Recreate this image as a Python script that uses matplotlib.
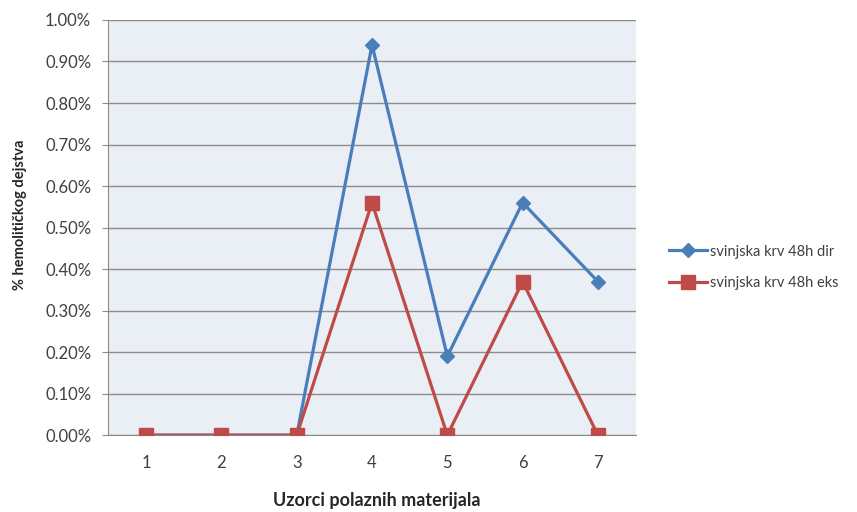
import matplotlib
matplotlib.use("Agg")
import matplotlib.pyplot as plt
from matplotlib.ticker import PercentFormatter

plt.rcParams['font.family'] = ['Lato', 'DejaVu Sans']

uzorci = [1, 2, 3, 4, 5, 6, 7]
dir_48h = [0.0, 0.0, 0.0, 0.94, 0.19, 0.56, 0.37]
eks_48h = [0.0, 0.0, 0.0, 0.56, 0.0, 0.37, 0.0]
y_ticks = [0.0, 0.1, 0.2, 0.3, 0.4, 0.5, 0.6, 0.7, 0.8, 0.9, 1.0]

blue = '#4A7EBB'
red = '#BE4B48'
txt = '#404040'

fig = plt.figure(figsize=(8.57, 5.12), dpi=100)
ax = fig.add_axes([0.1266, 0.150, 0.615, 0.811])
ax.set_facecolor('#EAEFF6')

ax.plot(uzorci, dir_48h, color=blue, lw=2.3, marker='D', ms=7.5,
        label='svinjska krv 48h dir', zorder=3)
ax.plot(uzorci, eks_48h, color=red, lw=2.3, marker='s', ms=10,
        label='svinjska krv 48h eks', zorder=4)

ax.set_xlim(0.5, 7.5)
ax.set_ylim(0, 1.0)
ax.set_xticks(uzorci)
ax.set_yticks(y_ticks)
ax.yaxis.set_major_formatter(PercentFormatter(xmax=100, decimals=2))
ax.grid(axis='y', color='#8C8C8C', lw=1)
ax.set_axisbelow(True)

for s in ['top', 'right']:
    ax.spines[s].set_visible(False)
ax.spines['left'].set_color('#8C8C8C')
ax.spines['bottom'].set_color('#8C8C8C')
ax.tick_params(axis='y', length=4.5, color='#8C8C8C', pad=8, labelsize=12, labelcolor=txt)
ax.tick_params(axis='x', length=0, pad=14, labelsize=12, labelcolor=txt)

fig.text(0.44, 0.022, 'Uzorci polaznih materijala',
         fontsize=13, fontweight='bold', color='#262626', ha='center', va='center')
fig.text(0.023, 0.58, '% hemolitičkog dejstva', rotation=90,
         fontsize=10.5, fontweight='bold', color='#262626', ha='center', va='center')

fig.legend(loc='center left', bbox_to_anchor=(0.765, 0.478), frameon=False,
           fontsize=10.5, labelcolor=txt, handlelength=2.6, handletextpad=0.2,
           labelspacing=1.2)

fig.savefig('out.png', dpi=100, facecolor='white')
